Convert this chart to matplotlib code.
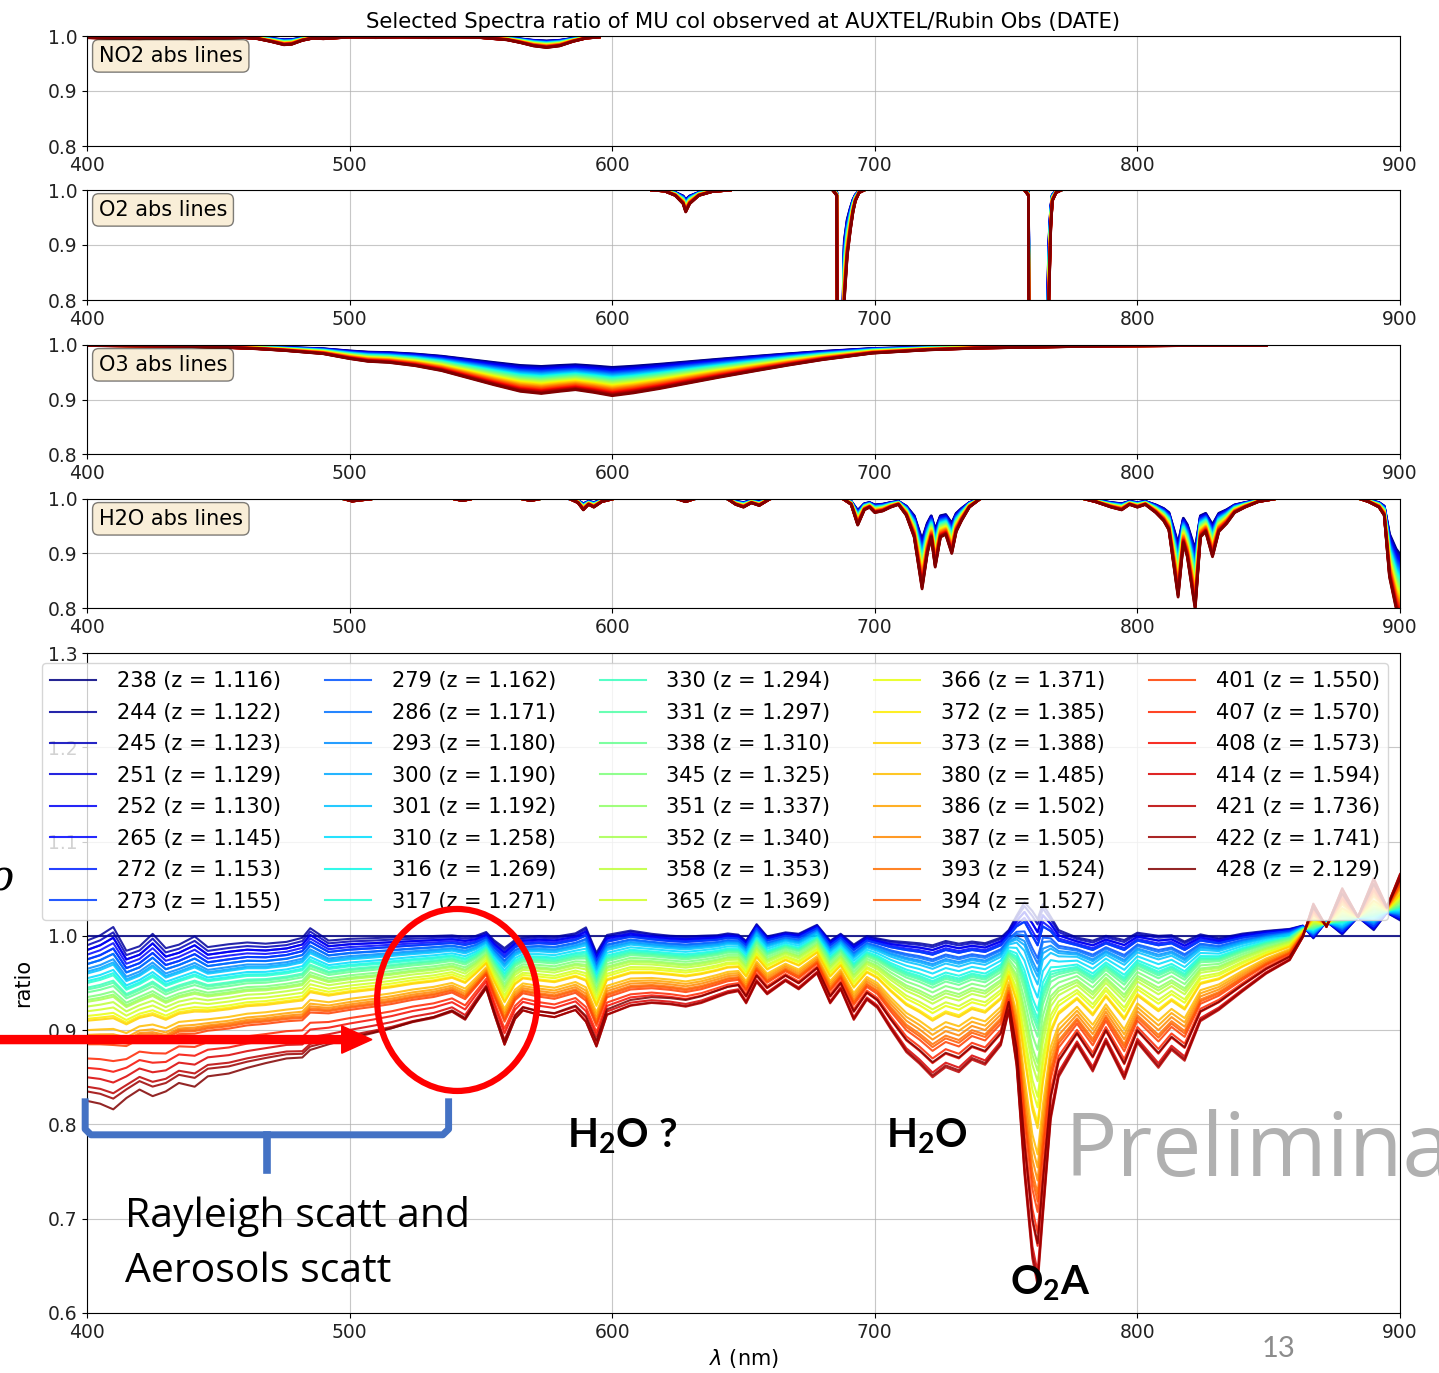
import matplotlib
matplotlib.use("Agg")
import matplotlib.pyplot as plt
import numpy as np
from matplotlib.patches import Ellipse, FancyArrow
from matplotlib.lines import Line2D

# spectrum numbers and airmass of each observation
spectra = [238, 244, 245, 251, 252, 265, 272, 273,
           279, 286, 293, 300, 301, 310, 316, 317,
           330, 331, 338, 345, 351, 352, 358, 365,
           366, 372, 373, 380, 386, 387, 393, 394,
           401, 407, 408, 414, 421, 422, 428]
airmass = [1.116, 1.122, 1.123, 1.129, 1.130, 1.145, 1.153, 1.155,
           1.162, 1.171, 1.180, 1.190, 1.192, 1.258, 1.269, 1.271,
           1.294, 1.297, 1.310, 1.325, 1.337, 1.340, 1.353, 1.369,
           1.371, 1.385, 1.388, 1.485, 1.502, 1.505, 1.524, 1.527,
           1.550, 1.570, 1.573, 1.594, 1.736, 1.741, 2.129]

# measured ratio of each spectrum at 400 nm and at 722 nm
ratio_400 = [1.000, 0.995, 0.990, 0.985, 0.985, 0.980, 0.975, 0.975,
             0.970, 0.970, 0.965, 0.962, 0.960, 0.955, 0.952, 0.950,
             0.945, 0.943, 0.940, 0.935, 0.932, 0.930, 0.925, 0.920,
             0.915, 0.912, 0.910, 0.900, 0.895, 0.892, 0.890, 0.888,
             0.885, 0.870, 0.860, 0.850, 0.840, 0.835, 0.825]
ratio_722 = [1.000, 0.990, 0.988, 0.985, 0.985, 0.982, 0.980, 0.980,
             0.975, 0.973, 0.970, 0.968, 0.965, 0.960, 0.955, 0.952,
             0.950, 0.948, 0.945, 0.940, 0.935, 0.932, 0.928, 0.922,
             0.918, 0.912, 0.910, 0.900, 0.895, 0.890, 0.885, 0.882,
             0.878, 0.870, 0.865, 0.855, 0.850, 0.852, 0.866]

# full ratio curves of spectra 265 and 428 (nm)
wl_ratio = [400, 405, 410, 415, 420, 425, 430, 435, 441, 446,
            454, 461, 468, 476, 482, 485, 492, 500, 509, 516,
            524, 532, 539, 544, 548, 552, 555, 559, 563, 566,
            572, 578, 586, 590, 594, 598, 607, 615, 622, 628,
            634, 640, 644, 648, 651, 655, 659, 666, 671, 678,
            683, 687, 692, 697, 701, 706, 712, 717, 722, 727,
            732, 737, 742, 748, 751, 754, 757, 760, 762, 764,
            767, 770, 777, 783, 788, 795, 800, 808, 813, 818,
            824, 831, 840, 849, 858, 863, 867, 872, 878, 884,
            890, 895, 900]
ratio_265 = [0.985, 0.990, 0.998, 0.975, 0.980, 0.992, 0.978, 0.982, 0.990, 0.980,
             0.983, 0.985, 0.984, 0.986, 0.990, 1.000, 0.988, 0.990, 0.991, 0.992,
             0.993, 0.994, 0.995, 0.993, 0.995, 1.000, 0.990, 0.980, 0.990, 0.993,
             0.994, 0.993, 0.997, 1.002, 0.975, 0.995, 1.000, 0.997, 0.995, 0.994,
             0.995, 0.996, 0.998, 0.997, 0.990, 1.008, 0.995, 1.000, 0.998, 1.008,
             0.990, 0.998, 0.985, 0.995, 0.992, 0.988, 0.985, 0.983, 0.980, 0.985,
             0.982, 0.985, 0.983, 0.990, 1.000, 1.010, 1.015, 1.000, 0.990, 1.010,
             1.005, 0.995, 0.990, 0.985, 0.992, 0.985, 0.995, 0.990, 0.992, 0.985,
             0.995, 0.992, 0.998, 1.002, 1.005, 1.010, 1.000, 1.015, 1.005, 1.020,
             1.010, 1.025, 1.020]
ratio_428 = [0.825, 0.822, 0.816, 0.828, 0.837, 0.830, 0.835, 0.844, 0.840, 0.851,
             0.854, 0.860, 0.865, 0.870, 0.871, 0.879, 0.885, 0.891, 0.897, 0.902,
             0.909, 0.914, 0.921, 0.913, 0.930, 0.946, 0.920, 0.888, 0.915, 0.924,
             0.920, 0.918, 0.926, 0.915, 0.889, 0.922, 0.932, 0.935, 0.934, 0.932,
             0.936, 0.942, 0.946, 0.948, 0.936, 0.958, 0.945, 0.958, 0.950, 0.966,
             0.936, 0.950, 0.920, 0.940, 0.932, 0.912, 0.890, 0.879, 0.866, 0.876,
             0.871, 0.883, 0.878, 0.897, 0.930, 0.880, 0.780, 0.700, 0.674, 0.740,
             0.830, 0.868, 0.897, 0.872, 0.900, 0.865, 0.900, 0.876, 0.893, 0.882,
             0.920, 0.930, 0.948, 0.965, 0.978, 1.000, 1.030, 1.010, 1.045, 1.020,
             1.055, 1.030, 1.060]

# model transmissions for the last spectrum, one list per gas
no2_trans = [
    (400, 0.997), (410, 0.996), (420, 0.995), (430, 0.996), (440, 0.995),
    (450, 0.996), (460, 0.997), (465, 0.995), (470, 0.990), (475, 0.984),
    (478, 0.985), (482, 0.992), (486, 0.996), (490, 0.995), (500, 0.998),
    (510, 0.997), (520, 0.998), (530, 0.997), (540, 0.998), (550, 0.997),
    (560, 0.993), (565, 0.988), (570, 0.982), (575, 0.979), (580, 0.982),
    (585, 0.990), (590, 0.996), (595, 0.998)]
o2_bands = [
    [(615, 1.0), (620, 0.998), (624, 0.99), (627, 0.975), (628, 0.96),
     (629.5, 0.975), (633, 0.99), (638, 0.997), (645, 1.0)],
    [(684, 1.0), (685.5, 0.99), (686, 0.30), (687.5, 0.45), (688.4, 0.80),
     (689.5, 0.88), (690.7, 0.927), (691.7, 0.96), (692.6, 0.98),
     (694, 0.995), (696, 1.0)],
    [(757, 1.0), (758.5, 0.99), (759, 0.30), (763, 0.20), (765.5, 0.50),
     (766.3, 0.80), (767, 0.93), (767.6, 0.98), (769, 0.995), (771, 1.0)]]
o3_trans = [
    (400, 0.999), (430, 0.998), (450, 0.996), (465, 0.993), (475, 0.990),
    (490, 0.984), (500, 0.975), (507, 0.970), (515, 0.968), (525, 0.962),
    (535, 0.953), (545, 0.940), (555, 0.927), (565, 0.915), (573, 0.911),
    (580, 0.915), (586, 0.918), (593, 0.913), (600, 0.907), (608, 0.912),
    (618, 0.920), (630, 0.931), (641, 0.941), (655, 0.953), (667, 0.963),
    (680, 0.973), (699, 0.985), (720, 0.991), (738, 0.994), (760, 0.996),
    (787, 0.998), (820, 0.999), (849, 0.999)]
h2o_bands = [
    [(498, 1.0), (501, 0.996), (504, 0.998), (508, 1.0)],
    [(540, 1.0), (543, 0.997), (546, 1.0)],
    [(566, 1.0), (569, 0.997), (572, 1.0)],
    [(584, 1.0), (587, 0.993), (589, 0.980), (591, 0.990), (593, 0.985),
     (596, 0.995), (600, 1.0)],
    [(625, 1.0), (628, 0.995), (631, 1.0)],
    [(644, 1.0), (647, 0.990), (650, 0.985), (653, 0.993), (656, 0.988),
     (660, 1.0)],
    [(688, 1.0), (691, 0.990), (693.5, 0.952), (696, 0.980), (698, 0.985),
     (700, 0.975), (703, 0.978), (706, 0.985), (709, 0.990), (712, 0.970),
     (715, 0.930), (718, 0.835), (720, 0.900), (721.5, 0.930),
     (723, 0.875), (725, 0.930), (727, 0.935), (729.3, 0.900), (731, 0.940),
     (733, 0.960), (736, 0.985), (740, 1.0)],
    [(780, 1.0), (784, 0.995), (787, 0.990), (790, 0.985), (794, 0.980),
     (797, 0.990), (800, 0.985), (803, 0.990), (807, 0.975), (810, 0.960),
     (812, 0.943), (815.5, 0.820), (817.5, 0.920), (819, 0.894),
     (822, 0.798), (824, 0.930), (826, 0.940), (828.6, 0.894), (831, 0.940),
     (834, 0.955), (837, 0.975), (841, 0.985), (846, 0.995), (852, 1.0)],
    [(885, 1.0), (888, 0.995), (892, 0.985), (894, 0.970), (896, 0.857),
     (898.5, 0.800), (900, 0.780)]]

W, H, DPI = 1439, 1373, 100
TICK_FS = 13.5
LABEL_FS = 15
n_spec = len(spectra)
colors = plt.cm.jet(np.linspace(0, 1, n_spec))
# optical-depth fraction of each spectrum relative to the last one
depth_frac = 0.43 + 0.57 * np.arange(n_spec) / (n_spec - 1)

plt.rcParams["mathtext.rm"] = "Lato"
plt.rcParams["mathtext.bf"] = "Lato:bold"
plt.rcParams["mathtext.it"] = "Lato:italic"

fig = plt.figure(figsize=(W / DPI, H / DPI), dpi=DPI)


def add_panel(top, bottom, left=87, right=1400):
    return fig.add_axes([left / W, 1 - bottom / H,
                         (right - left) / W, (bottom - top) / H])


def style_panel(ax, ylo, yhi):
    ax.set_xlim(400, 900)
    ax.set_ylim(ylo, yhi)
    ax.set_xticks(np.arange(400, 901, 100))
    ax.set_yticks(np.round(np.arange(ylo, yhi + 1e-6, 0.1), 1))
    ax.yaxis.set_major_formatter(plt.FormatStrFormatter("%.1f"))
    ax.tick_params(labelsize=TICK_FS, labelcolor="#222222")
    ax.grid(True, color="#b0b0b0", lw=0.8, alpha=0.7)
    ax.set_axisbelow(True)


def plot_gas(ax, pairs):
    wl = np.array([p[0] for p in pairs])
    tr = np.array([p[1] for p in pairs])
    for frac, c in zip(depth_frac, colors):
        ax.plot(wl, tr ** frac, color=c, lw=2)


gas_panels = [("NO2 abs lines", (36, 146), [no2_trans]),
              ("O2 abs lines", (190, 300), o2_bands),
              ("O3 abs lines", (345, 454), [o3_trans]),
              ("H2O abs lines", (499, 608), h2o_bands)]

axes = []
for label, (top, bottom), bands in gas_panels:
    ax = add_panel(top, bottom)
    for band in bands:
        plot_gas(ax, band)
    style_panel(ax, 0.8, 1.0)
    ax.text(0.009, 0.91, label, transform=ax.transAxes, fontsize=15,
            va="top", ha="left",
            bbox=dict(boxstyle="round", facecolor="wheat", alpha=0.5))
    axes.append(ax)

axes[0].set_title("Selected Spectra ratio of MU col observed at AUXTEL/Rubin Obs (DATE)",
                  fontsize=15.2)

# ratio of every spectrum to spectrum 238
ax5 = add_panel(653, 1313)
wl = np.array(wl_ratio)
r_lo = np.array(ratio_265)
r_hi = np.array(ratio_428)
i400 = wl_ratio.index(400)
i722 = wl_ratio.index(722)
blend = np.clip((wl - 450) / 200.0, 0, 1)
for k, (n, z, r4, r7, c) in enumerate(zip(spectra, airmass, ratio_400,
                                           ratio_722, colors)):
    if k == 0:
        curve = np.ones_like(wl, dtype=float)
    else:
        s_blue = (r4 - r_lo[i400]) / (r_hi[i400] - r_lo[i400])
        s_red = (r7 - r_lo[i722]) / (r_hi[i722] - r_lo[i722])
        s = s_blue + (s_red - s_blue) * blend
        curve = r_lo + (r_hi - r_lo) * s
    ax5.plot(wl, curve, color=c, lw=1.5, alpha=0.85,
             label=f"{n} (z = {z:.3f})")
style_panel(ax5, 0.6, 1.3)
ax5.set_xlabel(r"$\lambda$ (nm)", fontsize=LABEL_FS)
ax5.set_ylabel("ratio", fontsize=LABEL_FS)
ax5.yaxis.set_label_coords(-0.041, 0.5)

ax5.legend(ncol=5, loc="upper left", bbox_to_anchor=(42 / W, 1 - 663 / H),
           bbox_transform=fig.transFigure, borderaxespad=0, fontsize=15,
           labelspacing=0.55, handlelength=2.2, handletextpad=1.0,
           columnspacing=2.1, framealpha=0.8)

# annotations on the ratio panel
ax5.add_patch(FancyArrow(355, 0.890, 153.5, 0, width=0.0085,
                         head_width=0.029, head_length=11.5,
                         length_includes_head=True, color="red",
                         clip_on=False, zorder=6))
ax5.add_patch(Ellipse((541, 0.932), 61, 0.193, fill=False, edgecolor="red",
                      lw=4.5, clip_on=False, zorder=6))
brace = "#4472c4"
ax5.add_line(Line2D([399.3, 399.3, 401.5, 535.5, 537.7, 537.7],
                    [0.824, 0.795, 0.789, 0.789, 0.795, 0.824],
                    color=brace, lw=5, solid_joinstyle="round",
                    clip_on=False, zorder=6))
ax5.add_line(Line2D([468.6, 468.6], [0.789, 0.752], color=brace, lw=5.5,
                    clip_on=False, zorder=6))

note = dict(fontsize=29, color="black", math_fontfamily="custom")
ax5.text(582.8, 0.775, r"$\mathbf{H_2O\ ?}$", **note)
ax5.text(704.3, 0.775, r"$\mathbf{H_2O}$", **note)
ax5.text(751.5, 0.619, r"$\mathbf{O_2A}$", **note)
ax5.text(414.5, 0.6914, "Rayleigh scatt and", fontsize=29.5, family="Open Sans")
ax5.text(414.5, 0.633, "Aerosols scatt", fontsize=29.5, family="Open Sans")
ax5.text(772.4, 0.7455, "Preliminary", fontsize=63, family="Open Sans",
         color="#b0b0b0")

fig.text(1262 / W, 1 - 1357 / H, "13", fontsize=21, family="Lato",
         color="#8c8c8c")
fig.text(-12 / W, 1 - 890 / H, "\u03c1", fontsize=30, family="DejaVu Serif",
         style="italic")

fig.savefig("out.png", dpi=DPI)
